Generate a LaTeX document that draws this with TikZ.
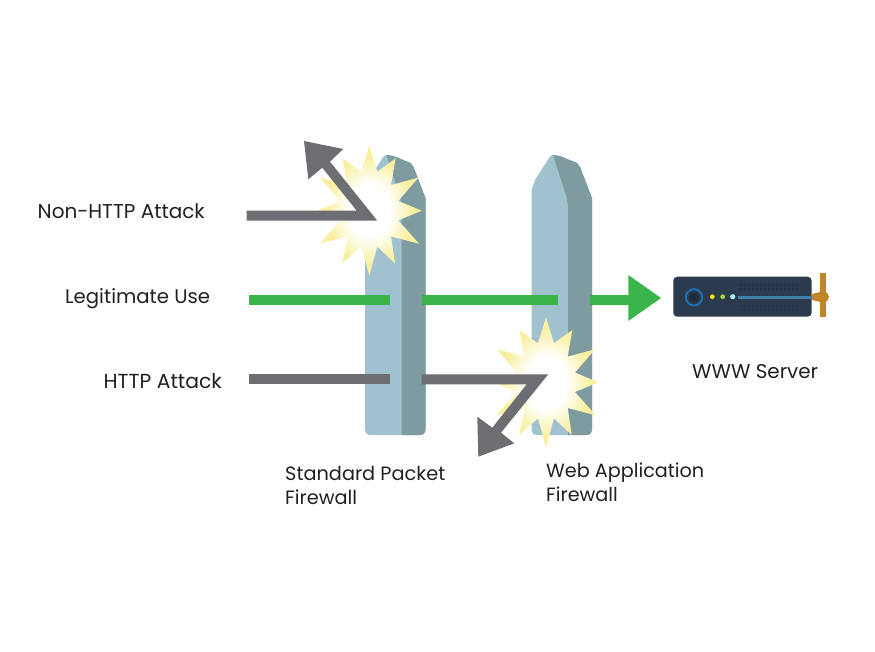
\documentclass[tikz,border=0pt]{standalone}
\usepackage{fontspec}
\setmainfont{Poppins}
\definecolor{fwlight}{HTML}{9FC2CE}
\definecolor{fwdark}{HTML}{7E9CA0}
\definecolor{attackgray}{HTML}{6D6E71}
\definecolor{usegreen}{HTML}{39B54A}
\definecolor{burstyellow}{HTML}{F8F09E}
\definecolor{srvbody}{HTML}{2B3A4C}
\definecolor{srvdot}{HTML}{223043}
\definecolor{srvblue}{HTML}{1F6FB5}
\definecolor{srvline}{HTML}{3F7FA6}
\definecolor{srvorange}{HTML}{BF8529}
\definecolor{labeltext}{HTML}{231F20}
\pgfdeclareradialshading{burstshade}{\pgfpoint{0bp}{0bp}}{color(0bp)=(white); color(10bp)=(white); color(21bp)=(burstyellow); color(50bp)=(burstyellow)}
\tikzset{
  lbl/.style={anchor=base west,inner sep=0pt,text=labeltext,font=\fontsize{#1}{24}\selectfont,align=left},
  attack/.style={fill=attackgray,draw=none},
  legit/.style={fill=usegreen,draw=none},
  pics/firewall/.style={code={
    \fill[fwlight] (531.5,190) -- (535,180) -- (549,158) .. controls (550.5,155.5) and (552,155) .. (553,155) -- (560,156) -- (577,163) -- (580,167) -- (592,198) -- (592,429) .. controls (592,433) and (590,435) .. (586,435) -- (537.5,435) .. controls (533.5,435) and (531.5,433) .. (531.5,429) -- cycle;
    \fill[fwdark] (553,155) -- (560,156) -- (577,163) -- (580,167) -- (592,198) -- (592,429) .. controls (592,433) and (590,435) .. (586,435) -- (568,435) -- (568,205) -- (566,195) -- cycle;
  }},
  pics/burst/.style={code={
    \shade[shading=burstshade] (0,-65) -- (8,-39) -- (26.3,-52.3) -- (21.7,-25.7) -- (49,-33) -- (29,-9.7) -- (52.3,0) -- (29,9.7) -- (49.7,33) -- (21.7,25.7) -- (25.7,52.7) -- (8,36) -- (0,65) -- (-8,36) -- (-26.7,52.7) -- (-21.7,25.7) -- (-49.3,33) -- (-29,9.7) -- (-52,0) -- (-29,-9.7) -- (-49.3,-33) -- (-21.7,-25.7) -- (-26.7,-52.3) -- (-8,-39) -- cycle;
  }}
}
\begin{document}
\begin{tikzpicture}[x=1pt,y=-1pt]
\useasboundingbox (0,0) rectangle (875,652);
% firewalls
\pic at (-166.5,0) {firewall};
\pic at (0,0) {firewall};
% green path
\fill[legit] (249,295) rectangle (390.3,305);
\fill[legit] (421.7,295) rectangle (557.7,305);
\fill[legit] (590,295) -- (628.3,295) -- (628.3,275) -- (661,298) -- (628.3,321) -- (628.3,305) -- (590,305) -- cycle;
% bursts
\pic at (369.3,210.7) {burst};
\pic at (546,382.3) {burst};
% non-http attack
\fill[attack] (246.7,210.7) -- (356.7,210.7) -- (322.3,167.7) -- (308.3,179.3) -- (304,141) -- (343.3,149) -- (330,161.7) -- (377.3,220.7) -- (246.7,220.7) -- cycle;
% http attack
\fill[attack] (249,374.3) rectangle (390.3,384.3);
\fill[attack] (421.7,374.3) -- (548.3,374.3) -- (501,432.7) -- (514.3,443.3) -- (478.3,456.7) -- (477.3,416.7) -- (492.3,427.7) -- (526.7,384.3) -- (421.7,384.3) -- cycle;
% server
\fill[srvbody,rounded corners=4pt] (673.3,276.7) rectangle (811.7,316.7);
\foreach \r in {285,289,306,310}{
  \foreach \c in {0,1,...,14}{
    \fill[srvdot] (741+\c*4,\r) circle (1.1);
  }
}
\fill[srvorange] (811,294.5) -- (816,293) -- (822,291.5) -- (822,302.5) -- (816,301) -- (811,299.5) -- cycle;
\fill[srvorange] (820,273.3) rectangle (826,317.3);
\fill[srvorange] (823.5,297) circle (5.5);
\fill[srvline] (738.3,296) rectangle (811.7,298.6);
\draw[srvblue,line width=2pt] (694,297.3) circle (8.2);
\fill[srvbody!75!black] (694,297.3) circle (5);
\fill[yellow!85!orange] (712.3,296.7) circle (2.4);
\fill[yellow!60!green!85!white] (722.7,296.7) circle (2.4);
\fill[blue!15!cyan!35!white] (732.7,296.7) circle (2.6);
% labels
\node[lbl=20] (nonhttp) at (37.5,219) {Non-HTTP Attack};
\node[lbl=19.7] (legit) at (65,303) {Legitimate Use};
\node[lbl=20.3] (httpatk) at (103.5,388) {HTTP Attack};
\node[lbl=19.3] (spf) at (285,504) {Standard Packet\\Firewall};
\node[lbl=19.2] (waf) at (546,501) {Web Application\\Firewall};
\node[lbl=19.9] (www) at (692,378) {WWW Server};
\end{tikzpicture}
\end{document}
